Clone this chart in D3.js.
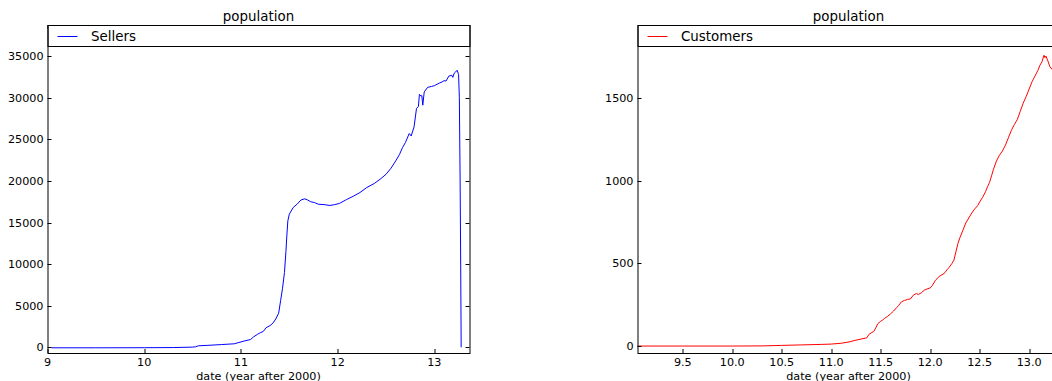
<!DOCTYPE html>
<html>
<head>
<meta charset="utf-8">
<script src="https://cdn.jsdelivr.net/npm/d3@7"></script>
<style>
    body { margin: 0; background: #fff; }
    svg { font-family: "DejaVu Sans", sans-serif; }
    .tick-label { font-size: 11.2px; fill: #000; }
    .axis-title { font-size: 11.2px; fill: #000; }
    .plot-title { font-size: 13.4px; fill: #000; }
    .legend-label { font-size: 13.4px; fill: #000; }
</style>
</head>
<body>
<div id="chart"></div>
<script>
// Values
const sellersYear = [9.04, 9.5, 10.0, 10.3, 10.5, 10.53, 10.56, 10.65, 10.8, 10.93, 10.97, 11.03, 11.1, 11.13, 11.17,
    11.2, 11.23, 11.26, 11.3, 11.33, 11.36, 11.39, 11.41, 11.43, 11.45, 11.465, 11.475, 11.485, 11.5, 11.54, 11.58,
    11.62, 11.66, 11.69, 11.72, 11.76, 11.8, 11.86, 11.92, 11.97, 12.02, 12.09, 12.16, 12.23, 12.3, 12.38, 12.45,
    12.5, 12.55, 12.6, 12.64, 12.67, 12.7, 12.74, 12.76, 12.79, 12.815, 12.835, 12.845, 12.86, 12.87, 12.88, 12.895,
    12.93, 12.97, 13.0, 13.05, 13.08, 13.1, 13.12, 13.15, 13.18, 13.19, 13.205, 13.22, 13.235, 13.25, 13.258,
    13.266, 13.272, 13.277];
const sellersCount = [-60, -60, -50, -30, 20, 60, 180, 230, 330, 420, 550, 740, 940, 1250, 1550,
    1750, 1900, 2350, 2600, 2900, 3400, 4100, 5600, 7100, 9000, 11500, 13500, 15200, 16000, 16800, 17200,
    17700, 17850, 17700, 17500, 17400, 17200, 17150, 17050, 17150, 17300, 17750, 18150, 18600, 19200, 19700, 20300,
    20800, 21500, 22400, 23200, 24000, 24600, 25700, 25400, 26500, 28700, 28950, 30400, 30200, 30250, 29100, 30700,
    31250, 31350, 31450, 31750, 31900, 32050, 32000, 32600, 32700, 32450, 32950, 33100, 33300, 32800, 30000,
    20000, 10000, 0];

const customersYear = [9.04, 9.5, 10.0, 10.3, 10.5, 10.7, 10.9, 11.0, 11.1, 11.19, 11.25, 11.3, 11.36, 11.38, 11.41,
    11.43, 11.45, 11.47, 11.5, 11.52, 11.54, 11.57, 11.6, 11.63, 11.66, 11.68, 11.71, 11.74, 11.77, 11.8, 11.83,
    11.86, 11.88, 11.91, 11.94, 11.97, 12.0, 12.02, 12.05, 12.08, 12.1, 12.13, 12.15, 12.17, 12.19, 12.22, 12.24,
    12.26, 12.28, 12.3, 12.33, 12.36, 12.39, 12.42, 12.45, 12.48, 12.5, 12.53, 12.56, 12.58, 12.6, 12.62, 12.64,
    12.67, 12.7, 12.73, 12.76, 12.79, 12.82, 12.85, 12.88, 12.91, 12.94, 12.97, 13.0, 13.03, 13.06, 13.09, 13.11,
    13.13, 13.15, 13.16, 13.17, 13.19, 13.21, 13.24, 13.27, 13.3];
const customersCount = [0, 0, 0, 1, 4, 7, 10, 12, 17, 26, 36, 42, 50, 70, 82,
    88, 110, 135, 150, 158, 168, 180, 195, 212, 232, 245, 268, 276, 282, 285, 308,
    318, 312, 322, 338, 346, 352, 365, 395, 415, 425, 435, 445, 462, 475, 500, 520,
    570, 620, 655, 700, 745, 775, 805, 830, 850, 872, 900, 935, 965, 990, 1030, 1070,
    1120, 1155, 1180, 1215, 1260, 1305, 1340, 1370, 1420, 1470, 1510, 1555, 1600, 1635, 1670, 1700,
    1720, 1760, 1745, 1755, 1725, 1690, 1670, 1660, 1650];

const sellersXTicks = [9, 10, 11, 12, 13];
const sellersYTicks = [0, 5000, 10000, 15000, 20000, 25000, 30000, 35000];
const customersXTicks = [9.5, 10.0, 10.5, 11.0, 11.5, 12.0, 12.5, 13.0];
const customersYTicks = [0, 500, 1000, 1500];

class LinePanel {

    constructor(_config, _xs, _ys) {
        this.config = {
            parent: _config.parent,
            left: _config.left,
            top: 25,
            width: 422,
            height: 328,
            xDomain: _config.xDomain,
            yDomain: _config.yDomain,
            xTicks: _config.xTicks,
            yTicks: _config.yTicks,
            xFormat: _config.xFormat,
            color: _config.color,
            label: _config.label,
            clipId: _config.clipId,
            legendHeight: 21,
            tickSize: 4
        };
        this.data = _xs.map((x, i) => ({x: x, y: _ys[i]}));
        this.initVis();
    }

    initVis() {
        let vis = this;
        const c = vis.config;

        vis.x = d3.scaleLinear().domain(c.xDomain).range([0, c.width]);
        vis.y = d3.scaleLinear().domain(c.yDomain).range([c.height, 0]);

        vis.g = c.parent.append('g')
            .attr('transform', `translate(${c.left},${c.top})`);

        vis.g.append('clipPath').attr('id', c.clipId)
            .append('rect').attr('width', c.width).attr('height', c.height);

        // data line
        const line = d3.line().x(d => vis.x(d.x)).y(d => vis.y(d.y));
        vis.g.append('path')
            .datum(vis.data)
            .attr('clip-path', `url(#${c.clipId})`)
            .attr('fill', 'none')
            .attr('stroke', c.color)
            .attr('stroke-width', 1)
            .attr('stroke-linejoin', 'round')
            .attr('d', line);

        // inward ticks on all four sides, matplotlib classic style
        const ticks = vis.g.append('g').attr('stroke', '#000').attr('stroke-width', 1);
        c.xTicks.forEach(t => {
            const px = Math.round(vis.x(t)) + 0.5;
            ticks.append('line').attr('x1', px).attr('x2', px).attr('y1', c.height).attr('y2', c.height - c.tickSize);
            ticks.append('line').attr('x1', px).attr('x2', px).attr('y1', 0).attr('y2', c.tickSize);
        });
        c.yTicks.forEach(t => {
            const py = Math.round(vis.y(t)) + 0.5;
            ticks.append('line').attr('x1', 0).attr('x2', c.tickSize).attr('y1', py).attr('y2', py);
            ticks.append('line').attr('x1', c.width).attr('x2', c.width - c.tickSize).attr('y1', py).attr('y2', py);
        });

        vis.g.selectAll('.x-label')
            .data(c.xTicks)
            .join('text')
            .attr('class', 'tick-label')
            .attr('text-anchor', 'middle')
            .attr('x', d => vis.x(d))
            .attr('y', c.height + 12.5)
            .text(c.xFormat);

        vis.g.selectAll('.y-label')
            .data(c.yTicks)
            .join('text')
            .attr('class', 'tick-label')
            .attr('text-anchor', 'end')
            .attr('dy', '0.36em')
            .attr('x', -4)
            .attr('y', d => vis.y(d))
            .text(d => d);

        vis.g.append('text')
            .attr('class', 'axis-title')
            .attr('text-anchor', 'middle')
            .attr('x', c.width / 2)
            .attr('y', c.height + 26.5)
            .text('date (year after 2000)');

        vis.g.append('text')
            .attr('class', 'plot-title')
            .attr('text-anchor', 'middle')
            .attr('x', c.width / 2)
            .attr('y', -4.5)
            .text('population');

        // legend box spanning the top of the axes
        const legend = vis.g.append('g');
        legend.append('rect')
            .attr('x', 0.5).attr('y', 0.5)
            .attr('width', c.width).attr('height', c.legendHeight)
            .attr('fill', '#fff')
            .attr('stroke', '#000');
        legend.append('line')
            .attr('x1', 10).attr('x2', 30)
            .attr('y1', 11.5).attr('y2', 11.5)
            .attr('stroke', c.color);
        legend.append('text')
            .attr('class', 'legend-label')
            .attr('x', 43.5)
            .attr('y', 16)
            .text(c.label);

        // axes frame
        vis.g.append('rect')
            .attr('x', 0.5).attr('y', 0.5)
            .attr('width', c.width).attr('height', c.height)
            .attr('fill', 'none')
            .attr('stroke', '#000');
    }
}

const svg = d3.select('#chart').append('svg')
    .attr('width', 1052)
    .attr('height', 381);

new LinePanel({
    parent: svg,
    left: 47.5,
    xDomain: [9, 13.363],
    yDomain: [-685, 38740],
    xTicks: sellersXTicks,
    yTicks: sellersYTicks,
    xFormat: d => d,
    color: '#0000ff',
    label: 'Sellers',
    clipId: 'clip-sellers'
}, sellersYear, sellersCount);

new LinePanel({
    parent: svg,
    left: 637.5,
    xDomain: [9.042, 13.307],
    yDomain: [-42, 1943],
    xTicks: customersXTicks,
    yTicks: customersYTicks,
    xFormat: d => d.toFixed(1),
    color: '#ff0000',
    label: 'Customers',
    clipId: 'clip-customers'
}, customersYear, customersCount);
</script>
</body>
</html>
